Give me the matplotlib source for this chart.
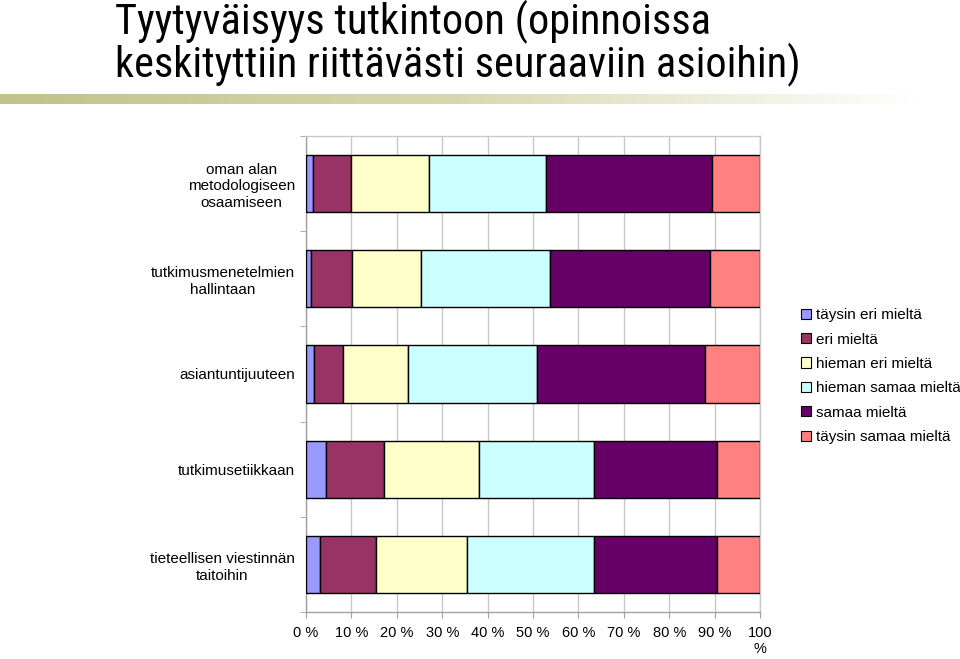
import matplotlib
matplotlib.use("Agg")
import matplotlib.pyplot as plt
import numpy as np
from matplotlib.patches import Patch
from matplotlib.colors import LinearSegmentedColormap
from matplotlib import font_manager

categories = ["oman alan\nmetodologiseen\nosaamiseen",
              "tutkimusmenetelmien\nhallintaan",
              "asiantuntijuuteen",
              "tutkimusetiikkaan",
              "tieteellisen viestinnän\ntaitoihin"]
series = ["täysin eri mieltä", "eri mieltä", "hieman eri mieltä",
          "hieman samaa mieltä", "samaa mieltä", "täysin samaa mieltä"]
values = [
    [1.5, 1.2, 1.8, 4.3, 3.1],
    [8.5, 9.0, 6.4, 12.9, 12.3],
    [17.1, 15.1, 14.3, 20.9, 20.0],
    [25.8, 28.4, 28.4, 25.3, 28.1],
    [36.5, 35.3, 36.9, 27.2, 27.0],
    [10.6, 11.0, 12.2, 9.4, 9.5],
]
xtick_labels = ["0 %", "10 %", "20 %", "30 %", "40 %", "50 %", "60 %",
                "70 %", "80 %", "90 %", "100\n%"]
colors = ["#9999FF", "#993366", "#FFFFCC", "#CCFFFF", "#660066", "#FF8080"]

names = {f.name for f in font_manager.fontManager.ttflist}
base = "Liberation Sans" if "Liberation Sans" in names else "DejaVu Sans"
narrow = base
for cand in ["Liberation Sans Narrow", "Roboto Condensed", "Open Sans Condensed"]:
    if cand in names:
        narrow = cand
        break
plt.rcParams['font.family'] = [base, 'DejaVu Sans']

fig = plt.figure(figsize=(9.6, 6.59), dpi=100)

tsize = 28 if narrow == base else 30.5
fig.text(115/960, 1 - 34/659, "Tyytyväisyys tutkintoon (opinnoissa", family=[narrow, 'DejaVu Sans'],
         fontsize=tsize, ha="left", va="baseline", color="black")
fig.text(115/960, 1 - 77/659, "keskityttiin riittävästi seuraaviin asioihin)", family=[narrow, 'DejaVu Sans'],
         fontsize=tsize, ha="left", va="baseline", color="black")

band = fig.add_axes([0, 1 - 104/659, 920/960, 10/659])
cmap = LinearSegmentedColormap.from_list("b", ["#c2c28a", "#d8d8b0", "#ffffff"])
band.imshow(np.linspace(0, 1, 256)[None, :], aspect="auto", cmap=cmap)
band.axis("off")

ax = fig.add_axes([306/960, 1 - 612/659, 454/960, 476/659])
y = np.arange(len(categories))
left = np.zeros(len(categories))
for s, vals, c in zip(series, values, colors):
    vals = np.array(vals)
    ax.barh(y, vals, left=left, height=0.6, color=c, edgecolor="black",
            linewidth=1.0, label=s, zorder=3)
    left += vals

ax.set_xlim(0, 100)
ax.set_ylim(len(categories) - 0.5, -0.5)
ax.set_xticks(np.arange(0, 101, 10))
ax.set_xticklabels(xtick_labels, fontsize=10.5, va="top")
ax.set_yticks(y)
ax.set_yticklabels(categories, fontsize=11, ha="right", multialignment="center",
                   linespacing=1.25)
ax.tick_params(axis="y", length=0, pad=8)
ax.set_yticks(np.arange(-0.5, len(categories), 1.0), minor=True)
ax.tick_params(axis="y", which="minor", length=4, color="#a0a0a0", direction="out")
ax.tick_params(axis="x", length=4, color="#a0a0a0", direction="out", pad=6)
ax.grid(axis="x", color="#c8c8c8", linewidth=1.0, zorder=0)
for sp in ax.spines.values():
    sp.set_color("#a0a0a0")
    sp.set_linewidth(1.0)
ax.spines["right"].set_color("#c8c8c8")
ax.spines["top"].set_color("#c8c8c8")

handles = [Patch(facecolor=c, edgecolor="black", linewidth=0.8, label=s)
           for s, c in zip(series, colors)]
fig.legend(handles=handles, loc="upper left", bbox_to_anchor=(795/960, 1 - 302/659),
           frameon=False, fontsize=11, handlelength=0.65, handleheight=0.65,
           handletextpad=0.3, labelspacing=0.68, borderaxespad=0)

fig.savefig("out.png", dpi=100)
